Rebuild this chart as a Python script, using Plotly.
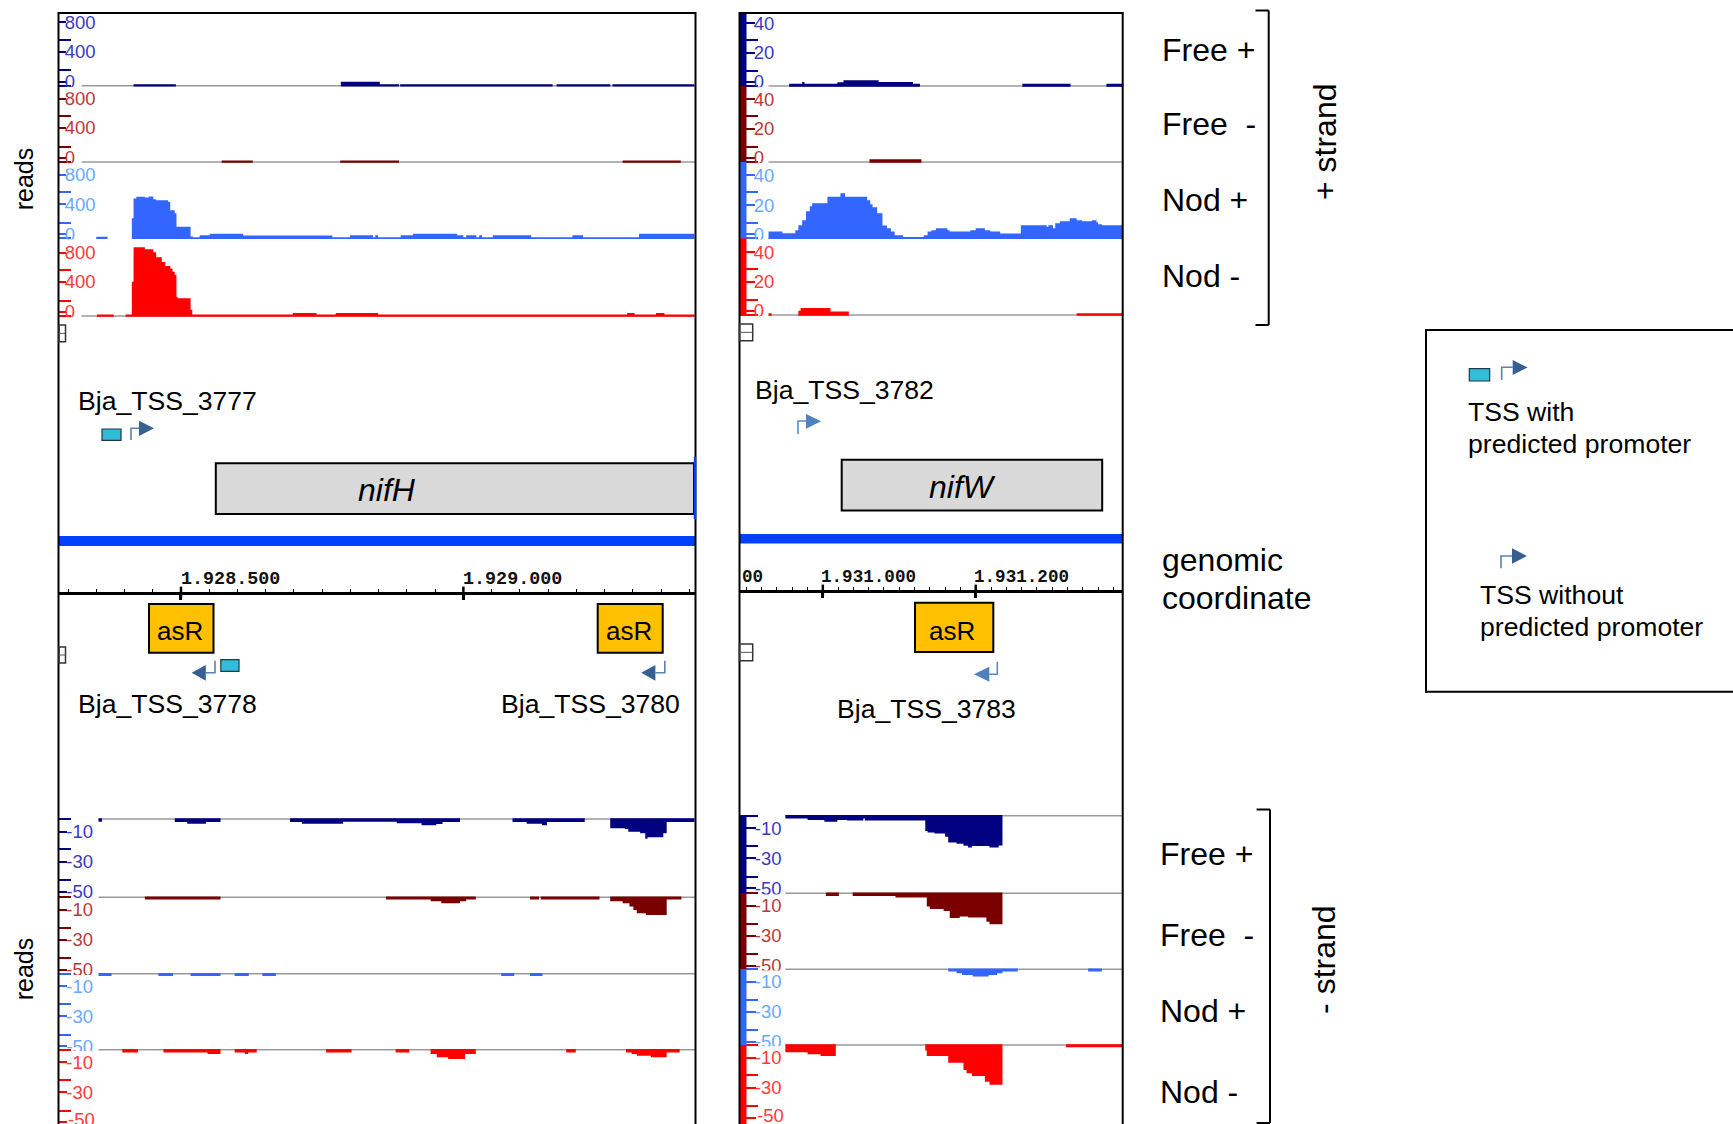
import plotly.graph_objects as go

W, H = 1733, 1124
SANS = "Liberation Sans"

# ---------- scales ----------
left_range = [1928284.0, 1929411.0]
right_range = [1930891.0, 1931392.0]
left_coord_ticks = [1928500, 1929000]
left_coord_labels = ["1.928.500", "1.929.000"]
right_coord_ticks = [1930800, 1931000, 1931200]
right_coord_labels = ["00", "1.931.000", "1.931.200"]

track_names = ["Free +", "Free -", "Nod +", "Nod -"]
track_colors = ["#000080", "#7a0000", "#3366ff", "#ff0000"]
label_colors = ["#3a3abf", "#b93a3a", "#6aa8ff", "#ff3a3a"]

# ---------- left panel, + strand (reads); edges in bp, one value per interval ----------
lp_free_p_edges = [1928416, 1928491, 1928783, 1928852, 1928886, 1928888, 1929158, 1929165, 1929260, 1929264, 1929409]
lp_free_p_vals = [20, 0, 52, 20, 0, 20, 0, 20, 0, 20]
lp_free_m_edges = [1928572, 1928627, 1928782, 1928886, 1929282, 1929385]
lp_free_m_vals = [20, 0, 20, 0, 20]
lp_nod_p_edges = [1928350, 1928370, 1928413, 1928416, 1928421, 1928436, 1928443, 1928451, 1928456, 1928477,
                  1928481, 1928489, 1928492, 1928517, 1928521, 1928533, 1928551, 1928610, 1928768, 1928799,
                  1928840, 1928844, 1928849, 1928889, 1928911, 1928989, 1929000, 1929005, 1929023, 1929028,
                  1929033, 1929052, 1929120, 1929193, 1929212, 1929311, 1929409]
lp_nod_p_vals = [20, 0, 260, 520, 540, 530, 545, 510, 495, 475, 365, 325, 150, 25, 15, 40, 60, 35, 15, 40,
                 15, 40, 15, 40, 60, 40, 15, 40, 15, 40, 15, 40, 15, 40, 15, 60]
lp_nod_m_edges = [1928351, 1928381, 1928402, 1928413, 1928416, 1928436, 1928451, 1928456, 1928466, 1928472,
                  1928481, 1928485, 1928489, 1928492, 1928494, 1928517, 1928520, 1928698, 1928740, 1928774,
                  1928849, 1929290, 1929303, 1929341, 1929356, 1929409]
lp_nod_m_vals = [20, 0, 20, 445, 895, 870, 830, 765, 705, 650, 620, 575, 535, 250, 230, 80, 20, 40, 20, 40,
                 20, 40, 20, 40, 20]
lp_gray_start = [1928324, 1928324, None, 1928324]

# ---------- right panel, + strand ----------
rp_free_p_edges = [1930956, 1930973, 1930976, 1931019, 1931027, 1931073, 1931118, 1931127, 1931261, 1931324, 1931371, 1931392]
rp_free_p_vals = [1.4, 2.6, 1.4, 2.4, 3.7, 2.6, 1.5, 0, 1.5, 0, 1.5]
rp_free_m_edges = [1931061, 1931129]
rp_free_m_vals = [1.8]
rp_nod_p_edges = [1930929, 1930947, 1930964, 1930968, 1930973, 1930978, 1930983, 1930986, 1931006, 1931023,
                  1931029, 1931058, 1931062, 1931065, 1931071, 1931078, 1931084, 1931089, 1931094, 1931105,
                  1931132, 1931137, 1931142, 1931148, 1931163, 1931166, 1931193, 1931200, 1931212, 1931219,
                  1931232, 1931259, 1931293, 1931295, 1931301, 1931304, 1931310, 1931323, 1931332, 1931339,
                  1931352, 1931358, 1931360, 1931365, 1931392]
rp_nod_p_vals = [4.4, 3.3, 5.2, 8.5, 11.7, 17.6, 20.8, 22.8, 27.1, 29.3, 27.1, 24.7, 22.1, 20.2, 16.3, 8.3, 6.5, 4.4, 2, 0.9,
                 2, 4.4, 5.2, 6.5, 5.2, 4.4, 5.2, 6.5, 5.2, 4.4, 3.1, 8.5, 7.6, 8.5, 6.5, 9.8, 11.1, 13, 11.7, 11.1,
                 11.7, 10.4, 9.1, 8.5]
rp_nod_m_edges = [1930929, 1930933, 1930968, 1930971, 1931010, 1931034, 1931332, 1931392]
rp_nod_m_vals = [1.1, 0, 2.8, 4.6, 2.2, 0, 1.1]
rp_gray_start = [1930929, 1930929, 1930929, 1930929]

# ---------- left panel, - strand ----------
ln_free_p_edges = [1928354, 1928360, 1928489, 1928511, 1928544, 1928570, 1928693, 1928714, 1928787, 1928882, 1928926,
                   1928952, 1928963, 1928994, 1929087, 1929112, 1929139, 1929148, 1929215, 1929260, 1929286, 1929292,
                   1929313, 1929322, 1929326, 1929354, 1929360, 1929409]
ln_free_p_vals = [-1.8, 0, -2, -3.1, -2, 0, -2, -3.1, -1.8, -2.8, -4.1,
                  -3.3, -2, 0, -2, -3.1, -4.1, -2, 0, -6.1, -6.6,
                  -8.3, -9.4, -12.9, -12, -9.4, -2]
ln_free_m_edges = [1928436, 1928570, 1928863, 1928942, 1928961, 1928994, 1929005, 1929022, 1929118, 1929134, 1929137,
                   1929241, 1929260, 1929282, 1929294, 1929301, 1929307, 1929323, 1929360, 1929386]
ln_free_m_vals = [-1.5, 0, -1.5, -2.6, -3.9, -2.6, -1.5, 0, -1.5, 0, -1.5,
                  0, -2.6, -3.9, -6.1, -8.3, -10.5, -11.6, -1.5]
ln_nod_p_edges = [1928354, 1928377, 1928460, 1928486, 1928517, 1928570, 1928595, 1928620, 1928644, 1928668, 1929067,
                  1929090, 1929118, 1929140]
ln_nod_p_vals = [-1.5, 0, -1.5, 0, -1.5, 0, -1.5, 0, -1.5, 0, -1.5, 0, -1.5]
ln_nod_m_edges = [1928396, 1928424, 1928469, 1928547, 1928570, 1928595, 1928613, 1928619, 1928634, 1928757, 1928802,
                  1928880, 1928904, 1928942, 1928953, 1928973, 1929003, 1929022, 1929182, 1929199, 1929288, 1929298,
                  1929307, 1929332, 1929360, 1929383]
ln_nod_m_vals = [-1.8, 0, -1.8, -2.8, 0, -1.8, -2.8, -1.8, 0, -1.8, 0,
                 -1.8, 0, -2.8, -5, -6.1, -2.8, 0, -1.8, 0, -1.8, -2.8,
                 -3.9, -5, -1.8]
ln_gray_start = [1928354, 1928354, 1928354, 1928354]

# ---------- right panel, - strand ----------
rn_free_p_edges = [1930951, 1930980, 1931002, 1931019, 1931032, 1931053, 1931055, 1931134, 1931137, 1931146, 1931160,
                   1931164, 1931175, 1931184, 1931190, 1931195, 1931218, 1931230, 1931235]
rn_free_p_vals = [-1.8, -2.8, -3.9, -2.8, -3.1, -1.8, -3.1, -10, -11, -11.6, -13.8,
                  -17.5, -18.4, -19.7, -20.8, -19.9, -20.8, -19.5]
rn_free_m_edges = [1931004, 1931021, 1931039, 1931095, 1931136, 1931140, 1931158, 1931166, 1931179, 1931190, 1931214,
                   1931218, 1931235]
rn_free_m_vals = [-1.8, 0, -1.8, -2.8, -8.7, -10.3, -11.6, -16.2, -15.3, -15.9, -18.6, -20.3]
rn_nod_p_edges = [1931164, 1931175, 1931182, 1931196, 1931217, 1931228, 1931235, 1931255, 1931347, 1931365]
rn_nod_p_vals = [-1.5, -2.6, -3.7, -4.8, -3.7, -2.6, -1.5, 0, -1.5]
rn_nod_m_edges = [1930951, 1930980, 1930997, 1931017, 1931134, 1931136, 1931164, 1931184, 1931188, 1931195, 1931212,
                  1931218, 1931235, 1931318, 1931392]
rn_nod_m_vals = [-4.8, -6.1, -7.2, 0, -3.6, -7.2, -11.6, -16.4, -18.6, -20.3, -24.1, -26, 0, -1.5]
rn_gray_start = [1930951, 1930951, 1930951, 1930951]

# ---------- y-axis tick labels ----------
big_labels = ["0", "400", "800"]
big_label_vals = [52, 443, 825]
big_long_ticks = [0, 200, 600]
small_labels = ["0", "20", "40"]
small_label_vals = [2.6, 21.5, 41]
small_long_ticks = [0, 10, 30]
neg_labels = ["-10", "-30", "-50"]
neg_label_vals = [-8.3, -28, -47.7]
neg_long_ticks = [0, -20, -40]

BIG_U = 13.03      # reads per pixel, left + strand
SMALL_U = 0.651    # reads per pixel, right + strand
NEG_U = 0.656      # reads per pixel, - strand
LABEL_ROOM = 8     # spare pixels so tick labels near a track edge are kept


def X(p):
    return p / W


def Y(p):
    return 1 - p / H


traces, shapes, annotations = [], [], []
layout = {}
axis_no = [0]


def add_axes(dom_x, dom_y, xrange, yaxis_opts, xaxis_opts=None):
    axis_no[0] += 1
    n = axis_no[0]
    sx = "" if n == 1 else str(n)
    xo = dict(domain=dom_x, range=xrange, visible=False, anchor="y" + sx, fixedrange=True)
    if xaxis_opts:
        xo.update(xaxis_opts)
    yo = dict(domain=dom_y, anchor="x" + sx, fixedrange=True, showgrid=False, zeroline=False)
    yo.update(yaxis_opts)
    layout["xaxis" + sx] = xo
    layout["yaxis" + sx] = yo
    return "x" + sx, "y" + sx


def step_outline(edges, vals, floor):
    """Closed outlines of the runs of non-zero intervals, for one filled trace."""
    xs, ys = [], []
    open_run = False
    for a, b, v in zip(edges[:-1], edges[1:], vals):
        if v == 0:
            if open_run:
                xs += [a, None]
                ys += [floor, None]
                open_run = False
            continue
        if not open_run:
            xs.append(a)
            ys.append(floor)
            open_run = True
        xs += [a, b]
        ys += [v, v]
    if open_run:
        xs.append(edges[-1])
        ys.append(floor)
    return xs, ys


def add_track(px_left, px_right, xrange, top, bottom, base, unit, edges, vals, idx,
              labels, label_vals, long_ticks, major_len, minor_len, gray_start, end_bp):
    if labels is neg_labels:
        low = min(bottom + LABEL_ROOM, H)
        rng = [-(low - base) * unit, 1.5 * unit]
        dom = [Y(low), Y(base - 1.5)]
        floor = 0.8 * unit
    else:
        up = top - LABEL_ROOM
        rng = [-LABEL_ROOM * unit, (base - up) * unit]
        dom = [Y(base + LABEL_ROOM), Y(up)]
        floor = -0.8 * unit
    yo = dict(
        range=rng, tickmode="array", tickvals=label_vals, ticktext=labels,
        ticks="inside", ticklen=major_len, tickwidth=1.5, tickcolor=track_colors[idx],
        ticklabelposition="inside", showticklabels=True,
        tickfont=dict(family=SANS, size=18.5, color=label_colors[idx]),
        showline=False,
        minor=dict(tickmode="array", tickvals=long_ticks, ticks="inside", ticklen=minor_len,
                   tickwidth=1.5, tickcolor=track_colors[idx], showgrid=False),
    )
    xa, ya = add_axes([X(px_left), X(px_right)], dom, xrange, yo)
    if gray_start is not None:
        shapes.append(dict(type="line", xref=xa, yref=ya, x0=gray_start, x1=end_bp, y0=0, y1=0,
                           layer="below", line=dict(color="#9a9a9a", width=1.5)))
    xs, ys = step_outline(edges, vals, floor)
    traces.append(go.Scatter(x=xs, y=ys, xaxis=xa, yaxis=ya, mode="lines", fill="toself",
                             fillcolor=track_colors[idx], line=dict(width=0, color=track_colors[idx]),
                             name=track_names[idx], hoverinfo="skip", showlegend=False))


L0, L1 = 59.0, 695.5
R0, R1 = 739.5, 1122.5

# tracks
lp_bases = [85.7, 162.0, 238.3, 316.0]
rp_bases = [86.0, 162.0, 238.3, 315.0]
ln_bases = [819.0, 897.3, 973.7, 1049.7]
rn_bases = [815.7, 893.3, 969.3, 1045.0]

lp_data = [(lp_free_p_edges, lp_free_p_vals), (lp_free_m_edges, lp_free_m_vals),
           (lp_nod_p_edges, lp_nod_p_vals), (lp_nod_m_edges, lp_nod_m_vals)]
rp_data = [(rp_free_p_edges, rp_free_p_vals), (rp_free_m_edges, rp_free_m_vals),
           (rp_nod_p_edges, rp_nod_p_vals), (rp_nod_m_edges, rp_nod_m_vals)]
ln_data = [(ln_free_p_edges, ln_free_p_vals), (ln_free_m_edges, ln_free_m_vals),
           (ln_nod_p_edges, ln_nod_p_vals), (ln_nod_m_edges, ln_nod_m_vals)]
rn_data = [(rn_free_p_edges, rn_free_p_vals), (rn_free_m_edges, rn_free_m_vals),
           (rn_nod_p_edges, rn_nod_p_vals), (rn_nod_m_edges, rn_nod_m_vals)]

for i in range(4):
    top = 13.0 if i == 0 else lp_bases[i - 1]
    add_track(L0, L1, left_range, top, None, lp_bases[i], BIG_U, *lp_data[i], i,
              big_labels, big_label_vals, big_long_ticks, 6.5, 12, lp_gray_start[i], left_range[1])
    top = 13.0 if i == 0 else rp_bases[i - 1]
    add_track(R0, R1, right_range, top, None, rp_bases[i], SMALL_U, *rp_data[i], i,
              small_labels, small_label_vals, small_long_ticks, 15, 18, rp_gray_start[i], right_range[1])
    bottom = ln_bases[i + 1] if i < 3 else H
    add_track(L0, L1, left_range, None, bottom, ln_bases[i], NEG_U, *ln_data[i], i,
              neg_labels, neg_label_vals, neg_long_ticks, 8, 12, ln_gray_start[i], left_range[1])
    bottom = rn_bases[i + 1] if i < 3 else H
    add_track(R0, R1, right_range, None, bottom, rn_bases[i], NEG_U, *rn_data[i], i,
              neg_labels, neg_label_vals, neg_long_ticks, 16, 18, rn_gray_start[i], right_range[1])


def rect(x0, y0, x1, y1, fill=None, line=None, lw=2, layer="above"):
    shapes.append(dict(type="rect", xref="paper", yref="paper", x0=X(x0), x1=X(x1), y0=Y(y0), y1=Y(y1),
                       fillcolor=fill if fill else "rgba(0,0,0,0)", layer=layer,
                       line=dict(color=line if line else "rgba(0,0,0,0)", width=lw if line else 0)))


def seg(x0, y0, x1, y1, color="#000000", lw=2):
    shapes.append(dict(type="line", xref="paper", yref="paper", x0=X(x0), x1=X(x1), y0=Y(y0), y1=Y(y1),
                       layer="above", line=dict(color=color, width=lw)))


def text(x, y, s, size, xanchor="left", color="#000000", angle=0, family=SANS, xref="paper", xshift=0):
    annotations.append(dict(x=x if xref != "paper" else X(x), y=Y(y), xref=xref, yref="paper", text=s,
                            showarrow=False, xanchor=xanchor, yanchor="middle", textangle=angle,
                            borderpad=0, xshift=xshift, font=dict(family=family, size=size, color=color)))


def bent_arrow(vx, ybase, ybend, hx, tip, ty0, ty1, line_col, head_col):
    shapes.append(dict(type="path", xref="paper", yref="paper", layer="above",
                       path=f"M {X(vx)} {Y(ybase)} L {X(vx)} {Y(ybend)} L {X(hx)} {Y(ybend)}",
                       fillcolor="rgba(0,0,0,0)", line=dict(color=line_col, width=1.6)))
    shapes.append(dict(type="path", xref="paper", yref="paper", layer="above",
                       path=f"M {X(hx)} {Y(ty0)} L {X(tip)} {Y((ty0 + ty1) / 2)} L {X(hx)} {Y(ty1)} Z",
                       fillcolor=head_col, line=dict(width=0)))


# masks that cut off the last tick label of each track, as in the original
for b in lp_bases:
    rect(62, b + 1.2, 80, b + 6.5, fill="#ffffff")
for b in rp_bases:
    rect(747, b + 1.2, 768, b + 6.5, fill="#ffffff")
for b in ln_bases[1:]:
    rect(62, b + 1.2, 97, b + 5, fill="#ffffff")
for b in rn_bases[1:]:
    rect(748, b + 1.2, 784, b + 5, fill="#ffffff")

# coloured strips of the right panel
rp_edges = [13.0] + rp_bases
rn_edges = rn_bases + [H]
for i in range(4):
    rect(739.5, rp_edges[i], 746.5, rp_edges[i + 1], fill=track_colors[i])
    rect(739.5, rn_edges[i], 746.5, rn_edges[i + 1], fill=track_colors[i])

# the last "-50" of each lower panel runs off the page, so plotly would drop it
text(67, 1119.3, neg_labels[-1], 18.5, color=label_colors[3])
text(756, 1115.5, neg_labels[-1], 18.5, color=label_colors[3])

# genome line
rect(L0, 536, L1, 546, fill="#0040ff")
rect(R0, 534, R1, 543.5, fill="#0040ff")

# coordinate axes
for px0, px1, rng, ticks, labels, base_px, tick0, dtick, minor_dtick, fs, shift in [
    (L0, L1, left_range, left_coord_ticks, left_coord_labels, 592.2, 1928000, 500, 50, 18.4, -1),
    (R0, R1, right_range, right_coord_ticks, right_coord_labels, 590.2, 1931000, 200, 20, 17.6, -3),
]:
    xo = dict(visible=True, showline=True, linecolor="#000000", linewidth=2.5, showticklabels=False,
              ticks="outside", ticklen=5, tickwidth=2.5, tickcolor="#000000", tick0=tick0, dtick=dtick,
              showgrid=False, zeroline=False, side="bottom",
              minor=dict(ticks="inside", ticklen=3, tickwidth=1, tickcolor="#000000", dtick=minor_dtick,
                         tick0=tick0, showgrid=False))
    xa, ya = add_axes([X(px0), X(px1)], [Y(base_px), Y(base_px - 10)], rng,
                      dict(visible=False, range=[0, 1]), xo)
    visible_ticks = [t for t in ticks if rng[0] <= t <= rng[1]]
    traces.append(go.Scatter(x=visible_ticks, y=[0] * len(visible_ticks), xaxis=xa, yaxis=ya, mode="markers",
                             cliponaxis=False, hoverinfo="skip", showlegend=False,
                             marker=dict(symbol="line-ns", size=8, line=dict(width=2.5, color="#000000"))))
    ty = 579 if fs > 18 else 577
    for t, lab in zip(ticks, labels):
        if t < rng[0]:
            text(741, ty, lab, fs, family="Liberation Mono", color="#111111")
        else:
            text(t, ty, lab, fs, family="Liberation Mono", xref=xa, color="#111111", xshift=shift)
        annotations[-1]["font"]["weight"] = "bold"

# panel frames
for x0, x1 in [(58.5, 695.5), (739.5, 1122.7)]:
    seg(x0, 13, x1, 13, lw=2)
    seg(x0, 12, x0, H, lw=2)
    seg(x1, 12, x1, H, lw=2)

# collapse icons
for x0, x1, y0, y1 in [(59, 65.5, 325, 341.7), (59, 65.5, 647, 663), (739.5, 752.7, 324, 340.7), (739.5, 752.7, 644, 660.7)]:
    rect(x0, y0, x1, y1, line="#333333", lw=1.5)
    seg(x0, (y0 + y1) / 2, x1, (y0 + y1) / 2, "#555555", 1)

# genes
rect(215.8, 463.3, 694, 514, fill="#d9d9d9", line="#000000", lw=2)
seg(695, 457, 695, 519, "#0040ff", 2.5)
text(387, 490, "<i>nifH</i>", 32, "center")
rect(841.7, 459.8, 1102.2, 510.4, fill="#d9d9d9", line="#000000", lw=2)
text(962, 486.7, "<i>nifW</i>", 32, "center")

# asR boxes
for x0, x1, y0, y1, cx, cy in [(149, 213.5, 604, 652.7, 180, 631), (597.7, 662.7, 604, 652.7, 629.3, 631),
                               (915, 993.3, 602.7, 652, 952.3, 630.7)]:
    rect(x0, y0, x1, y1, fill="#ffc000", line="#000000", lw=2)
    text(cx, cy, "asR", 26, "center")

# TSS marks
DARK_LINE, DARK_HEAD = "#5a82b4", "#376092"
LIGHT_LINE, LIGHT_HEAD = "#5b8cc8", "#4f81bd"
CYAN = "#31bcd9"
rect(102, 429, 121, 440.3, fill=CYAN, line="#1c3b4a", lw=1.2)
bent_arrow(131, 440, 428.3, 139, 154, 420.7, 436, DARK_LINE, DARK_HEAD)
text(76.5, 401, "Bja_TSS_3777", 26.6)
rect(220.8, 659.7, 239, 671.3, fill=CYAN, line="#1c3b4a", lw=1.2)
bent_arrow(215, 660.7, 672.7, 205.8, 191.7, 665, 680.7, DARK_LINE, DARK_HEAD)
text(76.5, 704, "Bja_TSS_3778", 26.6)
bent_arrow(664.8, 660.7, 672.7, 655.4, 641.3, 665, 680.7, DARK_LINE, DARK_HEAD)
text(500, 704, "Bja_TSS_3780", 26.6)
bent_arrow(798, 434, 421, 806, 821, 414, 428.7, LIGHT_LINE, LIGHT_HEAD)
text(753.7, 390, "Bja_TSS_3782", 26.6)
bent_arrow(997.3, 661.7, 674.3, 989.3, 974, 666.7, 681.7, LIGHT_LINE, LIGHT_HEAD)
text(836, 709, "Bja_TSS_3783", 26.6)

# right-hand labels
for s, y in [("Free +", 50), ("Free&nbsp;&nbsp;-", 123.7), ("Nod +", 200), ("Nod -", 275.7)]:
    text(1160.7, y, s, 32)
for s, y in [("Free +", 854.3), ("Free&nbsp;&nbsp;-", 935), ("Nod +", 1011), ("Nod -", 1092)]:
    text(1159, y, s, 32)
text(1161.2, 560.3, "genomic", 32)
text(1161.2, 598, "coordinate", 32)
text(1324.5, 141.5, "+ strand", 32, "center", angle=-90)
text(1324.5, 960.4, "- strand", 32, "center", angle=-90)
text(24.3, 179, "reads", 25, "center", angle=-90)
text(24.3, 969, "reads", 25, "center", angle=-90)

# brackets
for x0, x1, y0, y1 in [(1255.5, 1268.7, 10.5, 325), (1256.6, 1270, 809.5, 1123)]:
    seg(x0, y0, x1, y0, lw=2)
    seg(x1, y0, x1, y1, lw=2)
    seg(x0, y1, x1, y1, lw=2)

# legend box
seg(1426, 330, W, 330, lw=2)
seg(1426, 691.7, W, 691.7, lw=2)
seg(1426, 329, 1426, 692.7, lw=2)
rect(1469.3, 368.7, 1489.7, 381, fill=CYAN, line="#1c3b4a", lw=1.2)
bent_arrow(1501.7, 380, 367.3, 1512.7, 1527.7, 360, 375, DARK_LINE, DARK_HEAD)
text(1467.3, 411.7, "TSS with", 26.6)
text(1467.3, 444.3, "predicted promoter", 26.6)
bent_arrow(1501, 568.3, 556, 1512, 1527, 548.3, 563.7, DARK_LINE, DARK_HEAD)
text(1478.7, 595, "TSS without", 26.6)
text(1478.7, 627.3, "predicted promoter", 26.6)

fig = go.Figure(data=traces)
fig.update_layout(
    width=W, height=H, margin=dict(l=0, r=0, t=0, b=0), paper_bgcolor="#ffffff", plot_bgcolor="rgba(0,0,0,0)",
    showlegend=False, shapes=shapes, annotations=annotations,
    font=dict(family=SANS), **layout,
)
fig.write_html("out.html", config={"displayModeBar": False},
               post_script="document.body.style.margin='0';document.documentElement.style.overflow='hidden';")
